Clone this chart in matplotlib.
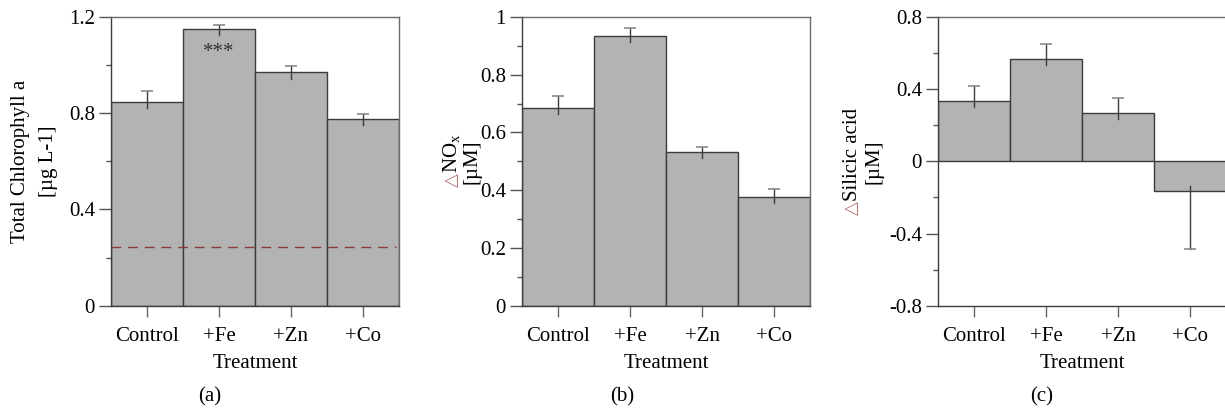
import matplotlib
matplotlib.use("Agg")
import matplotlib.pyplot as plt
from matplotlib.ticker import MultipleLocator, FuncFormatter

plt.rcParams['font.family'] = ['Liberation Serif', 'DejaVu Sans']
plt.rcParams['mathtext.fontset'] = 'custom'
plt.rcParams['mathtext.rm'] = 'Liberation Serif'
plt.rcParams['mathtext.it'] = 'Liberation Serif:italic'
plt.rcParams['axes.unicode_minus'] = False

treatments = ['Control', '+Fe', '+Zn', '+Co']

# total chlorophyll a (ug/L), bar value and lower / upper ends of the error bars
chl = [0.845, 1.150, 0.970, 0.776]
chl_lo = [0.820, 1.125, 0.944, 0.750]
chl_hi = [0.892, 1.165, 0.998, 0.796]
chl_initial = 0.243

# change in NOx (uM)
nox = [0.686, 0.933, 0.531, 0.378]
nox_lo = [0.665, 0.912, 0.511, 0.357]
nox_hi = [0.727, 0.961, 0.550, 0.405]

# change in silicic acid (uM)
sil = [0.333, 0.565, 0.266, -0.166]
sil_lo = [0.299, 0.532, 0.233, -0.484]
sil_hi = [0.418, 0.652, 0.351, -0.135]

W, H = 1225, 413
FS = 15
BAR = '#b3b3b3'
EDGE = '#3c3c3c'
CAP = '#8a8a8a'


def fx(x):
    return x / W


def fy(y):
    return 1 - y / H


def bars(ax, vals, lo, hi, ylim, major, minor):
    xs = range(len(vals))
    ax.bar(xs, vals, width=1.0, color=BAR, edgecolor=EDGE, linewidth=1.0, zorder=2)
    for x, v, l, h in zip(xs, vals, lo, hi):
        ax.plot([x, x], [l, h], color=EDGE, lw=1.0, zorder=3)
        # cap only on the far end of the error bar
        tip = h if v >= 0 else l
        ax.plot([x], [tip], marker='_', ms=9, mew=1.2, color=CAP, zorder=3)
    ax.set_xlim(-0.5, len(vals) - 0.5)
    ax.set_ylim(*ylim)
    ax.yaxis.set_major_locator(MultipleLocator(major))
    ax.yaxis.set_minor_locator(MultipleLocator(minor))
    ax.yaxis.set_major_formatter(FuncFormatter(lambda v, p: '%g' % round(v, 3)))
    ax.set_xticks(list(xs))
    ax.set_xticklabels(treatments)
    ax.tick_params(axis='y', which='major', direction='out', length=8.5, width=1,
                   color='#555555', labelsize=FS, pad=3)
    ax.tick_params(axis='y', which='minor', direction='out', length=3.6, width=1,
                   color='#555555')
    ax.tick_params(axis='x', direction='out', length=8, width=1, color='#666666',
                   labelsize=FS, pad=7)
    for side in ['left', 'bottom']:
        ax.spines[side].set_color(EDGE)
        ax.spines[side].set_linewidth(1.0)
    for side in ['top', 'right']:
        ax.spines[side].set_color('#6a6a6a')
        ax.spines[side].set_linewidth(1.0)
    ax.set_xlabel('Treatment', fontsize=FS, labelpad=6)


fig = plt.figure(figsize=(W / 100, H / 100), dpi=100)

top, bot = 17, 305.7
panels = [(111, 399), (522, 810), (938, 1226)]
axes = []
for l, r in panels:
    axes.append(fig.add_axes([fx(l), fy(bot), (r - l) / W, (bot - top) / H]))
ax1, ax2, ax3 = axes

bars(ax1, chl, chl_lo, chl_hi, (0, 1.2), 0.4, 0.2)
ax1.axhline(chl_initial, xmin=0, xmax=0.99, color='#8b3a3a', lw=1.0,
            dashes=(7, 5), zorder=4)
ax1.text(1, 1.035, '***', ha='center', va='baseline', fontsize=FS, color='#333333')

bars(ax2, nox, nox_lo, nox_hi, (0, 1.0), 0.2, 0.1)
bars(ax3, sil, sil_lo, sil_hi, (-0.8, 0.8), 0.4, 0.2)

# y labels, two lines each
ymid = (top + bot) / 2
fig.text(fx(20), fy(ymid), 'Total Chlorophyll a', rotation=90, ha='center',
         va='center', fontsize=FS)
fig.text(fx(48), fy(ymid), '[µg L-1]', rotation=90, ha='center', va='center',
         fontsize=FS)

TRI = '#b87878'
# delta NOx: triangle drawn in its own colour, joined on the same baseline
fig.text(fx(457), fy(173), r'NO$_\mathrm{x}$', rotation=90, rotation_mode='anchor',
         ha='left', va='baseline', fontsize=FS)
fig.text(fx(457), fy(173), '△', rotation=90, rotation_mode='anchor',
         ha='right', va='baseline', fontsize=FS - 2, color=TRI)
fig.text(fx(472), fy(ymid), '[µM]', rotation=90, ha='center', va='center',
         fontsize=FS)

fig.text(fx(857), fy(201), 'Silicic acid', rotation=90, rotation_mode='anchor',
         ha='left', va='baseline', fontsize=FS)
fig.text(fx(857), fy(201), '△', rotation=90, rotation_mode='anchor',
         ha='right', va='baseline', fontsize=FS - 2, color=TRI)
fig.text(fx(874), fy(ymid), '[µM]', rotation=90, ha='center', va='center',
         fontsize=FS)

# panel captions
for x, s in [(210, '(a)'), (622, '(b)'), (1042, '(c)')]:
    fig.text(fx(x), fy(397), s, ha='center', va='center', fontsize=FS)

fig.savefig('out.png', dpi=100)
